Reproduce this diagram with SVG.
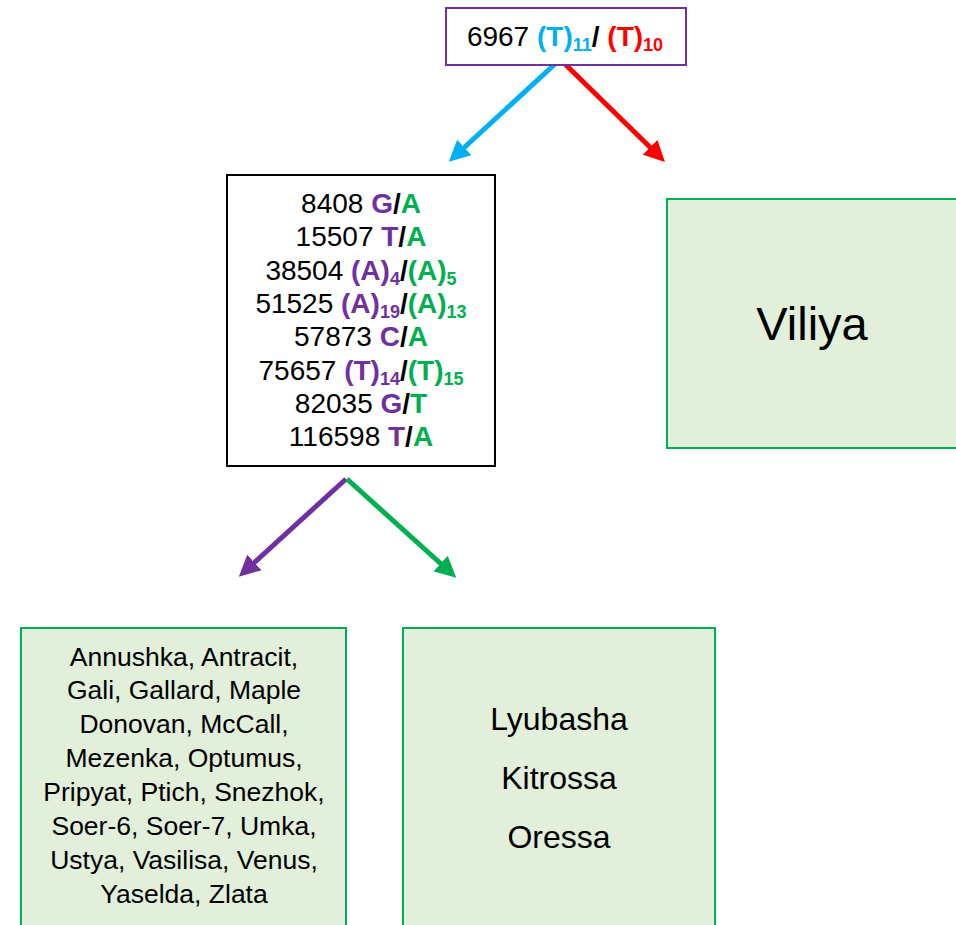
<svg xmlns="http://www.w3.org/2000/svg" width="956" height="925" viewBox="0 0 956 925">
<style>
text{font-family:"Liberation Sans",Arial,sans-serif;fill:#000}
.b{font-weight:bold}
.p{fill:#7030A0;font-weight:bold}
.g{fill:#00B050;font-weight:bold}
.c{fill:#00B0F0;font-weight:bold}
.r{fill:#FF0000;font-weight:bold}
.leaf{fill:#E2EFDA;stroke:#00B050;stroke-width:2}
.conn{stroke-width:5;fill:none}
</style>
<defs>
<marker id="mc" viewBox="0 0 10 10" refX="6" refY="5" markerWidth="4.2" markerHeight="4.2" orient="auto"><path d="M0,0 L10,5 L0,10 z" fill="#00B0F0"/></marker>
<marker id="mr" viewBox="0 0 10 10" refX="6" refY="5" markerWidth="4.2" markerHeight="4.2" orient="auto"><path d="M0,0 L10,5 L0,10 z" fill="#FF0000"/></marker>
<marker id="mp" viewBox="0 0 10 10" refX="6" refY="5" markerWidth="4.2" markerHeight="4.2" orient="auto"><path d="M0,0 L10,5 L0,10 z" fill="#7030A0"/></marker>
<marker id="mg" viewBox="0 0 10 10" refX="6" refY="5" markerWidth="4.2" markerHeight="4.2" orient="auto"><path d="M0,0 L10,5 L0,10 z" fill="#00B050"/></marker>
</defs>
<rect width="956" height="925" fill="#fff"/>
<g id="connectors">
<line class="conn" x1="555" y1="64" x2="455" y2="156" stroke="#00B0F0" marker-end="url(#mc)"/>
<line class="conn" x1="565" y1="64" x2="659" y2="156" stroke="#FF0000" marker-end="url(#mr)"/>
<line class="conn" x1="346" y1="479" x2="245" y2="571" stroke="#7030A0" marker-end="url(#mp)"/>
<line class="conn" x1="347" y1="479" x2="450" y2="572" stroke="#00B050" marker-end="url(#mg)"/>
</g>
<g id="root">
<rect x="446" y="8" width="240" height="57" fill="#fff" stroke="#7030A0" stroke-width="2"/>
<text x="565" y="46" font-size="28" text-anchor="middle">6967 <tspan class="c">(T)</tspan><tspan class="c" font-size="18" dy="5">11</tspan><tspan class="b" dy="-5">/ </tspan><tspan class="r">(T)</tspan><tspan class="r" font-size="18" dy="5">10</tspan></text>
</g>
<g id="markers">
<rect x="227" y="175" width="268" height="291" fill="#fff" stroke="#000" stroke-width="2"/>
<g font-size="28" text-anchor="middle">
<text x="361" y="213">8408 <tspan class="p">G</tspan><tspan class="b">/</tspan><tspan class="g">A</tspan></text>
<text x="361" y="246">15507 <tspan class="p">T</tspan><tspan class="b">/</tspan><tspan class="g">A</tspan></text>
<text x="361" y="280">38504 <tspan class="p">(A)</tspan><tspan class="p" font-size="18" dy="5">4</tspan><tspan class="b" dy="-5">/</tspan><tspan class="g">(A)</tspan><tspan class="g" font-size="18" dy="5">5</tspan></text>
<text x="361" y="313">51525 <tspan class="p">(A)</tspan><tspan class="p" font-size="18" dy="5">19</tspan><tspan class="b" dy="-5">/</tspan><tspan class="g">(A)</tspan><tspan class="g" font-size="18" dy="5">13</tspan></text>
<text x="361" y="346">57873 <tspan class="p">C</tspan><tspan class="b">/</tspan><tspan class="g">A</tspan></text>
<text x="361" y="380">75657 <tspan class="p">(T)</tspan><tspan class="p" font-size="18" dy="5">14</tspan><tspan class="b" dy="-5">/</tspan><tspan class="g">(T)</tspan><tspan class="g" font-size="18" dy="5">15</tspan></text>
<text x="361" y="413">82035 <tspan class="p">G</tspan><tspan class="b">/</tspan><tspan class="g">T</tspan></text>
<text x="361" y="446">116598 <tspan class="p">T</tspan><tspan class="b">/</tspan><tspan class="g">A</tspan></text>
</g>
</g>
<g id="viliya">
<rect class="leaf" x="667" y="199" width="290" height="249"/>
<text x="812" y="340" font-size="47" text-anchor="middle">Viliya</text>
</g>
<g id="group-a">
<rect class="leaf" x="21" y="628" width="325" height="300"/>
<g font-size="26.5" text-anchor="middle">
<text x="184" y="666">Annushka, Antracit,</text>
<text x="184" y="699">Gali, Gallard, Maple</text>
<text x="184" y="733">Donovan, McCall,</text>
<text x="184" y="767">Mezenka, Optumus,</text>
<text x="184" y="801">Pripyat, Ptich, Snezhok,</text>
<text x="184" y="835">Soer-6, Soer-7, Umka,</text>
<text x="184" y="869">Ustya, Vasilisa, Venus,</text>
<text x="184" y="903">Yaselda, Zlata</text>
</g>
</g>
<g id="group-b">
<rect class="leaf" x="403" y="628" width="312" height="300"/>
<g font-size="32" text-anchor="middle">
<text x="559" y="730">Lyubasha</text>
<text x="559" y="789">Kitrossa</text>
<text x="559" y="848">Oressa</text>
</g>
</g>
</svg>
